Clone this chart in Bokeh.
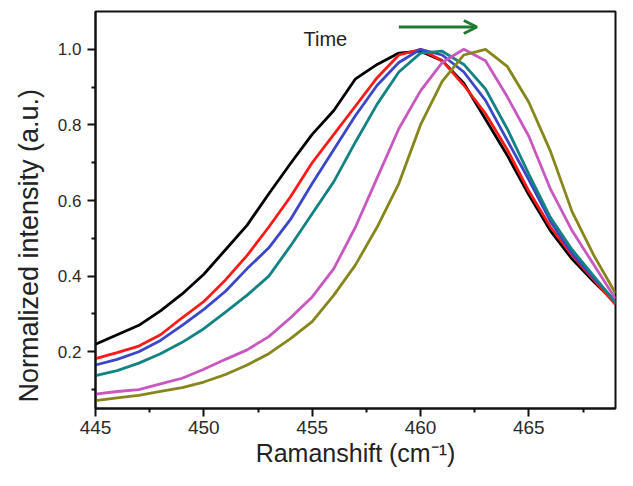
import math
from bokeh.plotting import figure
from bokeh.models import Range1d, Label, Arrow, OpenHead, FixedTicker, NumeralTickFormatter, Title
from bokeh.embed import file_html
from bokeh.resources import INLINE

# Raman shift grid (cm^-1)
raman_shift = [445, 446, 447, 448, 449, 450, 451, 452, 453, 454, 455, 456, 457,
               458, 459, 460, 461, 462, 463, 464, 465, 466, 467, 468, 469]

# normalized intensities, in time order
t1_black = [0.220, 0.245, 0.270, 0.308, 0.353, 0.405, 0.470, 0.535, 0.618, 0.698, 0.775, 0.838, 0.922,
            0.960, 0.990, 0.995, 0.970, 0.910, 0.815, 0.720, 0.615, 0.520, 0.445, 0.385, 0.330]
t2_red = [0.182, 0.198, 0.215, 0.245, 0.290, 0.333, 0.390, 0.455, 0.530, 0.610, 0.700, 0.775, 0.850,
          0.925, 0.985, 1.000, 0.970, 0.905, 0.830, 0.735, 0.625, 0.530, 0.455, 0.390, 0.325]
t3_blue = [0.165, 0.180, 0.200, 0.230, 0.270, 0.312, 0.360, 0.420, 0.475, 0.550, 0.645, 0.735, 0.825,
           0.905, 0.965, 1.000, 0.985, 0.940, 0.865, 0.760, 0.655, 0.545, 0.460, 0.395, 0.333]
t4_teal = [0.137, 0.150, 0.170, 0.195, 0.225, 0.261, 0.305, 0.350, 0.400, 0.480, 0.565, 0.650, 0.755,
           0.855, 0.940, 0.990, 0.995, 0.960, 0.895, 0.790, 0.670, 0.555, 0.470, 0.400, 0.330]
t5_magenta = [0.088, 0.095, 0.100, 0.115, 0.130, 0.154, 0.180, 0.205, 0.240, 0.290, 0.345, 0.420, 0.530,
              0.660, 0.790, 0.890, 0.965, 1.000, 0.970, 0.875, 0.770, 0.630, 0.520, 0.430, 0.340]
t6_olive = [0.071, 0.078, 0.085, 0.095, 0.105, 0.120, 0.140, 0.165, 0.195, 0.235, 0.280, 0.350, 0.430,
            0.530, 0.645, 0.800, 0.915, 0.985, 1.000, 0.955, 0.860, 0.730, 0.570, 0.455, 0.355]

series = [t1_black, t2_red, t3_blue, t4_teal, t5_magenta, t6_olive]
colors = ["#000000", "#ff1a1a", "#3c46c8", "#128282", "#c858c0", "#86861c"]

x_ticks = [445, 450, 455, 460, 465]
x_minor = [447.5, 452.5, 457.5, 462.5, 467.5]
y_ticks = [0.2, 0.4, 0.6, 0.8, 1.0]
y_minor = [0.1, 0.3, 0.5, 0.7, 0.9]

FONT = "Liberation Sans"

p = figure(width=617, height=470, output_backend="svg", toolbar_location=None,
           x_range=Range1d(445, 469), y_range=Range1d(0.05, 1.1),
           min_border_left=91, min_border_right=2, min_border_top=11, min_border_bottom=62)
p.background_fill_color = "white"
p.border_fill_color = "white"
p.grid.visible = False
p.outline_line_color = "#111111"
p.outline_line_width = 2

for ys, c in zip(series, colors):
    p.line(raman_shift, ys, line_color=c, line_width=2.8)

for ax in (p.xaxis[0], p.yaxis[0]):
    ax.axis_line_width = 2
    ax.axis_line_color = "#111111"
    ax.major_tick_line_width = 2
    ax.minor_tick_line_width = 2
    ax.major_tick_line_color = "#111111"
    ax.minor_tick_line_color = "#111111"
    ax.major_tick_in = 0
    ax.major_tick_out = 8
    ax.minor_tick_in = 0
    ax.minor_tick_out = 4
    ax.major_label_text_font = FONT
    ax.major_label_text_color = "#2a2a2a"

p.xaxis.ticker = FixedTicker(ticks=x_ticks, minor_ticks=x_minor)
p.yaxis.ticker = FixedTicker(ticks=y_ticks, minor_ticks=y_minor)
p.yaxis.formatter = NumeralTickFormatter(format="0.0")
p.xaxis.major_label_text_font_size = "19px"
p.yaxis.major_label_text_font_size = "17px"
p.xaxis.major_label_standoff = 4
p.yaxis.major_label_standoff = 6

# axis titles
p.xaxis.axis_label = "Ramanshift (cm\u207b\u00b9)"
p.xaxis.axis_label_text_font = FONT
p.xaxis.axis_label_text_font_size = "25px"
p.xaxis.axis_label_text_font_style = "normal"
p.xaxis.axis_label_text_color = "#222222"
p.xaxis.axis_label_standoff = 2

p.add_layout(Title(text="Normalized intensity (a.u.)", align="left", offset=6, standoff=22,
                   text_font=FONT, text_font_size="27px", text_font_style="normal",
                   text_color="#222222"), "left")

# "Time" annotation with arrow
p.add_layout(Label(x=454.6, y=1.026, text="Time", text_font=FONT, text_font_size="20px",
                   text_color="#222222", text_align="left", text_baseline="middle"))
p.add_layout(Arrow(x_start=459.0, y_start=1.059, x_end=462.6, y_end=1.059,
                   line_color="#1e7a2e", line_width=3,
                   end=OpenHead(size=13, line_color="#1e7a2e", line_width=3)))

open("out.html", "w").write(file_html(p, INLINE))
